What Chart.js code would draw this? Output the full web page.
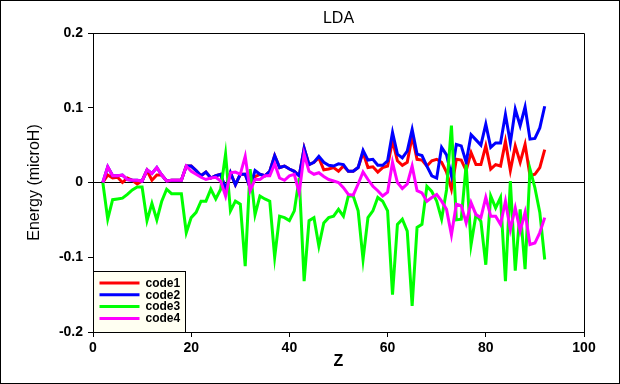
<!DOCTYPE html>
<html>
<head>
<meta charset="utf-8">
<script src="https://cdn.jsdelivr.net/npm/chart.js@4"></script>
<style>
html,body{margin:0;padding:0;background:#fff;}
canvas{display:block;}
</style>
</head>
<body>
<canvas id="c" width="620" height="384"></canvas>
<script>
const zValues = [2,3,4,5,6,7,8,9,10,11,12,13,14,15,16,17,18,19,20,21,22,23,24,25,26,27,28,29,30,31,32,33,34,35,36,37,38,39,40,41,42,43,44,45,46,47,48,49,50,51,52,53,54,55,56,57,58,59,60,61,62,63,64,65,66,67,68,69,70,71,72,73,74,75,76,77,78,79,80,81,82,83,84,85,86,87,88,89,90,91,92];

const code1 = [0,0.010,0.006,0.007,0.000,0.006,0.003,-0.002,0.002,0.016,0.003,0.010,0.010,0.002,0.003,0.003,0.003,0.022,0.022,0.016,0.009,0.014,0.006,0.009,0.011,-0.009,0.013,-0.003,0.011,0.011,-0.007,0.008,0.011,0.009,0.015,0.036,0.020,0.022,0.018,0.015,0.009,0.046,0.024,0.027,0.033,0.017,0.018,0.020,0.015,0.022,0.015,0.015,0.020,0.040,0.020,0.021,0.014,0.020,0.022,0.056,0.029,0.023,0.027,0.062,0.031,0.030,0.022,0.029,0.031,0.027,0.014,-0.009,0.031,0.030,0.016,0.040,0.024,0.024,0.049,0.018,0.024,0.022,0.055,0.016,0.049,0.027,0.051,0.009,0.011,0.020,0.044];

const code2 = [0,0.021,0.009,0.009,0.010,0.004,0.003,0.003,0.002,0.017,0.012,0.020,0.010,0.002,0.003,0.003,0.003,0.022,0.022,0.016,0.009,0.014,0.006,0.009,0.011,-0.009,0.013,-0.003,0.011,0.011,-0.007,0.016,0.011,0.009,0.015,0.036,0.020,0.022,0.018,0.015,0.009,0.046,0.024,0.027,0.035,0.027,0.023,0.022,0.025,0.024,0.015,0.015,0.020,0.043,0.030,0.031,0.023,0.023,0.029,0.067,0.038,0.033,0.042,0.071,0.038,0.036,0.022,0.009,0.006,0.047,0.037,0.009,0.051,0.049,0.027,0.064,0.057,0.050,0.078,0.047,0.053,0.053,0.091,0.053,0.098,0.076,0.101,0.058,0.059,0.073,0.102];

const code3 = [0,-0.049,-0.023,-0.022,-0.021,-0.016,-0.010,-0.006,-0.006,-0.051,-0.028,-0.050,-0.025,-0.009,-0.015,-0.015,-0.015,-0.067,-0.047,-0.040,-0.025,-0.025,-0.009,-0.022,-0.009,0.038,-0.038,-0.025,-0.029,-0.112,0.018,-0.043,-0.018,-0.022,-0.025,-0.100,-0.045,-0.047,-0.051,-0.038,0.006,-0.132,-0.051,-0.047,-0.085,-0.054,-0.047,-0.045,-0.036,-0.045,-0.018,-0.018,-0.038,-0.103,-0.047,-0.038,-0.020,-0.025,-0.038,-0.150,-0.056,-0.049,-0.065,-0.165,-0.060,-0.056,-0.005,-0.012,-0.025,-0.049,-0.010,0.076,-0.050,-0.049,0.024,-0.083,-0.043,-0.052,-0.110,-0.018,-0.034,-0.020,-0.132,0.002,-0.118,-0.036,-0.116,0.018,-0.007,-0.040,-0.103];

const code4 = [0,0.021,0.009,0.009,0.010,0.004,0.003,0.003,0.002,0.017,0.012,0.020,0.010,0.002,0.003,0.003,0.003,0.022,0.015,0.011,0.007,0.004,0.006,0.007,0.002,-0.018,0.013,0.014,0.011,0.035,-0.011,0.004,0.004,0.009,0.009,0.025,0.006,0.003,0.009,0.011,-0.014,0.038,0.015,0.011,0.013,0.008,0.004,0.002,0.000,-0.007,-0.016,-0.017,-0.002,0.014,0.004,-0.005,-0.011,-0.018,-0.013,0.027,0.000,-0.008,-0.002,0.022,-0.011,-0.014,-0.025,-0.020,-0.016,-0.025,-0.036,-0.070,-0.029,-0.031,-0.054,-0.027,-0.043,-0.047,-0.020,-0.045,-0.045,-0.056,-0.025,-0.063,-0.034,-0.065,-0.040,-0.083,-0.081,-0.067,-0.047];

const seriesNames = ['code1','code2','code3','code4'];
const seriesColors = ['#ff0000','#0000ff','#00ff00','#ff00ff'];
const xTickLabels = ['0','20','40','60','80','100'];
const yTickLabels = ['-0.2','-0.1','0','0.1','0.2'];

const FONT = "'Liberation Sans', Arial, Helvetica, sans-serif";
const allSeries = [code1, code2, code3, code4];

const datasets = allSeries.map((arr, k) => ({
  label: seriesNames[k],
  data: zValues.map((z, i) => ({x: z, y: arr[i]})),
  borderColor: seriesColors[k],
  backgroundColor: seriesColors[k],
  borderWidth: 3,
  pointRadius: 0,
  tension: 0,
  fill: false,
  order: allSeries.length - k
}));

const framePlugin = {
  id: 'frame',
  afterDraw(chart) {
    const ctx = chart.ctx;
    const a = chart.chartArea;
    ctx.save();
    ctx.strokeStyle = '#000';
    ctx.lineWidth = 1;
    ctx.beginPath();
    ctx.moveTo(Math.round(a.left) + 0.5, Math.round(a.top) + 0.5);
    ctx.lineTo(Math.round(a.right) + 0.5, Math.round(a.top) + 0.5);
    ctx.lineTo(Math.round(a.right) + 0.5, Math.round(a.bottom) + 0.5);
    ctx.stroke();
    const lx = Math.round(a.left) + 0.5, ly = 271.5, lw = 92, lh = Math.round(a.bottom) - 271;
    ctx.fillStyle = '#fffff2';
    ctx.fillRect(lx, ly, lw, lh);
    ctx.strokeRect(lx, ly, lw, lh);
    ctx.font = 'bold 12px ' + FONT;
    ctx.textBaseline = 'middle';
    ctx.textAlign = 'left';
    chart.data.datasets.forEach((ds, i) => {
      const y = 283 + i * 11.8;
      ctx.strokeStyle = ds.borderColor;
      ctx.lineWidth = 3;
      ctx.beginPath();
      ctx.moveTo(lx + 6, y);
      ctx.lineTo(lx + 46, y);
      ctx.stroke();
      ctx.fillStyle = '#000';
      ctx.fillText(ds.label, lx + 52, y + 0.5);
    });
    ctx.strokeStyle = '#000';
    ctx.lineWidth = 1;
    ctx.strokeRect(0.5, 0.5, chart.width - 1, chart.height - 1);
    ctx.restore();
  }
};

new Chart(document.getElementById('c'), {
  type: 'line',
  data: { datasets },
  options: {
    responsive: false,
    animation: false,
    layout: { padding: { left: 0, right: 36, top: 0, bottom: 0 } },
    plugins: {
      legend: { display: false },
      tooltip: { enabled: false },
      title: {
        display: true,
        text: 'LDA',
        fullSize: false,
        color: '#000',
        font: { family: FONT, size: 16, weight: 'normal' },
        padding: { top: 9, bottom: 4.8 }
      }
    },
    scales: {
      x: {
        type: 'linear',
        min: 0, max: 100,
        afterFit: s => { s.height = 52; },
        ticks: {
          stepSize: 20,
          color: '#000',
          padding: 3,
          maxRotation: 0,
          font: { family: FONT, size: 14, weight: 'bold' },
          callback: (v, i) => xTickLabels[i]
        },
        grid: { drawOnChartArea: false, tickColor: '#000', tickLength: 5, lineWidth: 1 },
        border: { display: true, color: '#000', width: 1 },
        title: {
          display: true, text: 'Z', color: '#000',
          font: { family: FONT, size: 16, weight: 'bold' },
          padding: { top: 0, bottom: 13 }
        }
      },
      y: {
        type: 'linear',
        min: -0.2, max: 0.2,
        afterFit: s => { s.width = 93; },
        ticks: {
          stepSize: 0.1,
          color: '#000',
          padding: 5,
          font: { family: FONT, size: 14, weight: 'bold' },
          callback: (v, i) => yTickLabels[i]
        },
        grid: {
          drawOnChartArea: true,
          color: c => (c.tick && Math.abs(c.tick.value) < 1e-9) ? '#000' : 'rgba(0,0,0,0)',
          tickColor: '#000', tickLength: 5, lineWidth: 1
        },
        border: { display: true, color: '#000', width: 1 },
        title: {
          display: true, text: 'Energy (microH)', color: '#000',
          font: { family: FONT, size: 16, weight: 'normal' },
          padding: { top: 25, bottom: 0 }
        }
      }
    }
  },
  plugins: [framePlugin]
});
</script>
</body>
</html>
